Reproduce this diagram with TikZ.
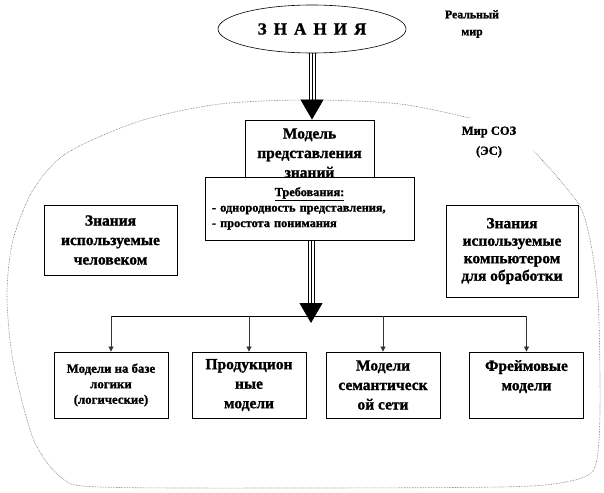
\documentclass[tikz,border=0pt]{standalone}
\usepackage{fontspec}
\setmainfont{Liberation Serif}[BoldFeatures={FakeBold=1.2}]
\usetikzlibrary{arrows.meta,shapes.geometric}
\begin{document}
\begin{tikzpicture}
  [x=1pt,y=-1pt,every node/.style={font=\bfseries,align=center,inner sep=0pt},
   box/.style={draw,line width=.8pt,fill=white},
   big/.style={font=\bfseries\fontsize{15.5}{19.5}\selectfont},
   tip/.style={black!80,line width=.7pt,-{Triangle[width=5pt,length=5pt]}},
   bigtip/.style={line width=.8pt,-{Triangle[width=23pt,length=20pt]}},
   rail/.style={line width=.8pt,shorten >=18pt},
   cloudline/.style={densely dotted,black!60,line width=.6pt}]
  \useasboundingbox (0,0) rectangle (604,492);
  \draw[cloudline] plot[smooth,tension=.5] coordinates {(470,118) (400,104) (310,100)
    (220,104) (140,121) (67,153) (33,190) (13,240) (7,290) (10,340) (18,385) (35,443)
    (62,478) (100,487) (300,488) (500,487) (560,483) (592,472) (599,440) (600,380)
    (598,300) (591,245) (578,203) (533,150)};

  \node[draw,ellipse,line width=.6pt,minimum width=188,minimum height=48,
        font=\bfseries\fontsize{17}{20}\selectfont] (zn) at (312,29) {З\, Н\, А\, Н\, И\, Я};
  \node[font=\bfseries\fontsize{11.8}{17}\selectfont] (real) at (472,24) {Реальный\\мир};
  \node[font=\bfseries\fontsize{12.5}{20}\selectfont] (soz) at (489,142) {Мир СОЗ\\(ЭС)};

  \node[box,big,minimum width=129,minimum height=66] (mod) at (309.5,153) {Модель\\представления\\знаний};
  \node[box,minimum width=209,minimum height=63,text width=195,align=left,
        font=\bfseries\fontsize{12.3}{15.5}\selectfont] (req) at (309.5,208.5)
        {\hfill\underline{Требования:}\hfill\null\\- однородность представления,\\- простота понимания};
  \node[box,big,minimum width=133,minimum height=70] (hum) at (110.5,240) {Знания\\используемые\\человеком};
  \node[box,minimum width=132,minimum height=92,font=\bfseries\fontsize{15.5}{17.5}\selectfont]
        (comp) at (512,251) {Знания\\используемые\\компьютером\\для обработки};

  \node[box,minimum width=114,minimum height=66,font=\bfseries\fontsize{12.8}{15.5}\selectfont]
        (m1) at (111,385) {Модели на базе\\логики\\(логические)};
  \node[box,big,minimum width=114,minimum height=66] (m2) at (249,385) {Продукцион\\ные\\модели};
  \node[box,big,minimum width=114,minimum height=66] (m3) at (383,385) {Модели\\семантическ\\ой сети};
  \node[box,big,minimum width=114,minimum height=66] (m4) at (526.5,385) {Фреймовые\\модели\\\mbox{}};

  \coordinate (bus) at (311,316);
  \coordinate (hub) at (311,323);

  \foreach \s in {-3,3} {
    \draw[rail] ([xshift=\s pt]zn.south) -- ([xshift=\s pt]zn.south |- mod.north);
    \draw[rail] ([xshift=\s pt]req.south -| hub) -- ([xshift=\s pt]hub);
  }
  \draw[bigtip] (zn.south) -- (zn.south |- mod.north);
  \draw[bigtip] (req.south -| hub) -- (hub);

  \draw[line width=.8pt] (m1.north |- bus) -- (m4.north |- bus);
  \foreach \m in {m1,m2,m3,m4}
    \draw[tip] (\m.north |- bus) -- (\m.north);
\end{tikzpicture}
\end{document}
